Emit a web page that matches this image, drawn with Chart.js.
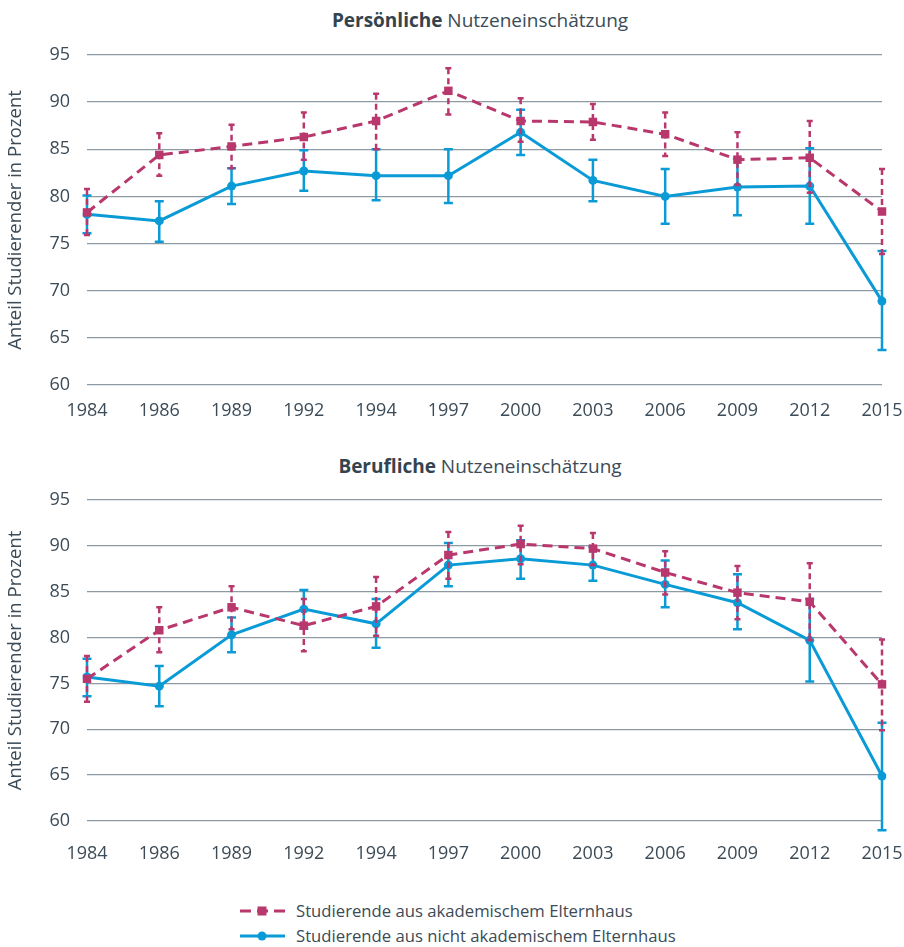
<!DOCTYPE html>
<html>
<head>
<meta charset="utf-8">
<script src="https://cdn.jsdelivr.net/npm/chart.js@4/dist/chart.umd.min.js"></script>
<style>
  html, body { margin: 0; padding: 0; background: #ffffff; }
  body { width: 904px; height: 947px; position: relative; overflow: hidden; font-family: "Open Sans", sans-serif; color: #3b4b57; }
  .title { position: absolute; left: 74px; width: 812px; text-align: center; font-size: 19px; line-height: 24px; color: #3b4b57; }
  .title b { font-weight: 700; color: #33444f; }
  .cv { position: absolute; left: 0; width: 904px; height: 440px; }
  #legend { position: absolute; left: 240px; top: 898px; font-size: 16.7px; color: #3b4b57; }
  #legend .row { height: 25px; display: flex; align-items: center; }
  #legend svg { margin-right: 11px; }
</style>
</head>
<body>
<div class="title" style="top:8px;"><b>Persönliche</b> Nutzeneinschätzung</div>
<div class="title" style="top:454px;"><b>Berufliche</b> Nutzeneinschätzung</div>
<div class="cv" style="top:0px;"><canvas id="c1"></canvas></div>
<div class="cv" style="top:445px;"><canvas id="c2"></canvas></div>
<div id="legend">
  <div class="row">
    <svg width="45" height="14"><line x1="0" y1="7" x2="45" y2="7" stroke="#b8386d" stroke-width="3" stroke-dasharray="11,6"/><rect x="17.5" y="2.5" width="9" height="9" fill="#b8386d"/></svg>
    <span>Studierende aus akademischem Elternhaus</span>
  </div>
  <div class="row">
    <svg width="45" height="14"><line x1="0" y1="7" x2="45" y2="7" stroke="#0a9bd7" stroke-width="3"/><circle cx="22" cy="7" r="4.5" fill="#0a9bd7"/></svg>
    <span>Studierende aus nicht akademischem Elternhaus</span>
  </div>
</div>
<script>
// ---- data ----
const years = ['1984','1986','1989','1992','1994','1997','2000','2003','2006','2009','2012','2015'];
const yTicks = [60, 65, 70, 75, 80, 85, 90, 95];

// Persönliche Nutzeneinschätzung
const persAkad      = [78.3, 84.4, 85.3, 86.3, 88.0, 91.2, 88.0, 87.9, 86.6, 83.9, 84.1, 78.4];
const persAkadLow   = [75.9, 82.2, 83.0, 83.9, 85.0, 88.7, 85.8, 86.0, 84.3, 81.2, 80.4, 73.9];
const persAkadHigh  = [80.8, 86.7, 87.6, 88.9, 90.9, 93.6, 90.4, 89.8, 88.9, 86.8, 88.0, 82.9];
const persNicht     = [78.1, 77.4, 81.1, 82.7, 82.2, 82.2, 86.8, 81.7, 80.0, 81.0, 81.1, 68.9];
const persNichtLow  = [76.1, 75.2, 79.2, 80.6, 79.6, 79.3, 84.4, 79.5, 77.1, 78.0, 77.1, 63.7];
const persNichtHigh = [80.1, 79.5, 83.0, 84.9, 85.0, 85.0, 89.2, 83.9, 82.9, 84.0, 85.1, 74.2];

// Berufliche Nutzeneinschätzung
const berAkad       = [75.5, 80.8, 83.3, 81.3, 83.4, 89.0, 90.2, 89.7, 87.1, 84.9, 83.9, 74.9];
const berAkadLow    = [73.0, 78.4, 80.9, 78.5, 80.2, 86.4, 88.0, 87.9, 84.7, 82.0, 79.7, 69.9];
const berAkadHigh   = [78.0, 83.3, 85.6, 84.2, 86.6, 91.5, 92.2, 91.4, 89.4, 87.8, 88.1, 79.8];
const berNicht      = [75.7, 74.7, 80.3, 83.1, 81.5, 87.9, 88.6, 87.9, 85.8, 83.8, 79.7, 64.9];
const berNichtLow   = [73.6, 72.5, 78.4, 81.0, 78.9, 85.6, 86.4, 86.2, 83.3, 80.9, 75.2, 59.0];
const berNichtHigh  = [77.7, 76.9, 82.2, 85.2, 84.2, 90.3, 90.6, 89.9, 88.4, 86.9, 84.2, 70.7];

const labelAkad  = 'Studierende aus akademischem Elternhaus';
const labelNicht = 'Studierende aus nicht akademischem Elternhaus';

const PINK = '#b8386d';
const BLUE = '#0a9bd7';
const GRID = '#8e9aa3';
const TEXT = '#3b4b57';
const FONT = '"Open Sans", sans-serif';

// error bar plugin: draws whiskers via the chart's own scales
const errorBars = {
  id: 'errorBars',
  beforeDatasetDraw(chart, args) {
    const ds = chart.data.datasets[args.index];
    if (!ds.errLow) return;
    const meta = args.meta;
    const ys = chart.scales.y;
    const ctx = chart.ctx;
    ctx.save();
    ctx.strokeStyle = ds.borderColor;
    ctx.lineWidth = ds.errWidth;
    meta.data.forEach((pt, i) => {
      const x = pt.x;
      const yl = ys.getPixelForValue(ds.errLow[i]);
      const yh = ys.getPixelForValue(ds.errHigh[i]);
      ctx.setLineDash(ds.errDash || []);
      ctx.beginPath();
      ctx.moveTo(x, yh); ctx.lineTo(x, yl);
      ctx.stroke();
      ctx.setLineDash([]);
      ctx.beginPath();
      ctx.moveTo(x - ds.capHalf, yh); ctx.lineTo(x + ds.capHalf, yh);
      ctx.moveTo(x - ds.capHalf, yl); ctx.lineTo(x + ds.capHalf, yl);
      ctx.stroke();
    });
    ctx.restore();
  }
};

function makeChart(id, akad, akadLow, akadHigh, nicht, nichtLow, nichtHigh, padBottom, xPad) {
  return new Chart(document.getElementById(id), {
    type: 'line',
    data: {
      labels: years,
      datasets: [
        {
          label: labelAkad, data: akad, errLow: akadLow, errHigh: akadHigh,
          borderColor: PINK, backgroundColor: PINK, borderWidth: 3, borderDash: [10, 6],
          pointStyle: 'rect', pointRadius: 6, pointHoverRadius: 6, pointBorderWidth: 0,
          errWidth: 2.5, errDash: [6, 4], capHalf: 3, tension: 0
        },
        {
          label: labelNicht, data: nicht, errLow: nichtLow, errHigh: nichtHigh,
          borderColor: BLUE, backgroundColor: BLUE, borderWidth: 3,
          pointStyle: 'circle', pointRadius: 4.5, pointHoverRadius: 4.5, pointBorderWidth: 0,
          errWidth: 2.5, capHalf: 4.5, tension: 0
        }
      ]
    },
    options: {
      responsive: true, maintainAspectRatio: false, animation: false,
      layout: { padding: { top: 55, bottom: padBottom, left: 0, right: 0 } },
      plugins: { legend: { display: false }, title: { display: false }, tooltip: { enabled: false } },
      scales: {
        x: {
          offset: false,
          afterFit: s => { s.height = 40; s.paddingRight = 22; s.paddingLeft = 0; },
          grid: { display: false, drawTicks: false },
          border: { display: false },
          ticks: { color: TEXT, font: { family: FONT, size: 18 }, padding: xPad, maxRotation: 0, autoSkip: false }
        },
        y: {
          min: 60, max: 95,
          afterBuildTicks: s => { s.ticks = yTicks.map(v => ({ value: v })); },
          afterFit: s => { s.width = 87; },
          grid: { color: GRID, lineWidth: 1.3, drawTicks: false },
          border: { display: false },
          ticks: { color: TEXT, font: { family: FONT, size: 18 }, padding: 17 },
          title: { display: true, text: 'Anteil Studierender in Prozent', color: TEXT, font: { family: FONT, size: 18.5 }, padding: { top: 5, bottom: 0 } }
        }
      }
    },
    plugins: [errorBars]
  });
}

makeChart('c1', persAkad, persAkadLow, persAkadHigh, persNicht, persNichtLow, persNichtHigh, 15, 15);
makeChart('c2', berAkad, berAkadLow, berAkadHigh, berNicht, berNichtLow, berNichtHigh, 24, 22);
</script>
</body>
</html>
